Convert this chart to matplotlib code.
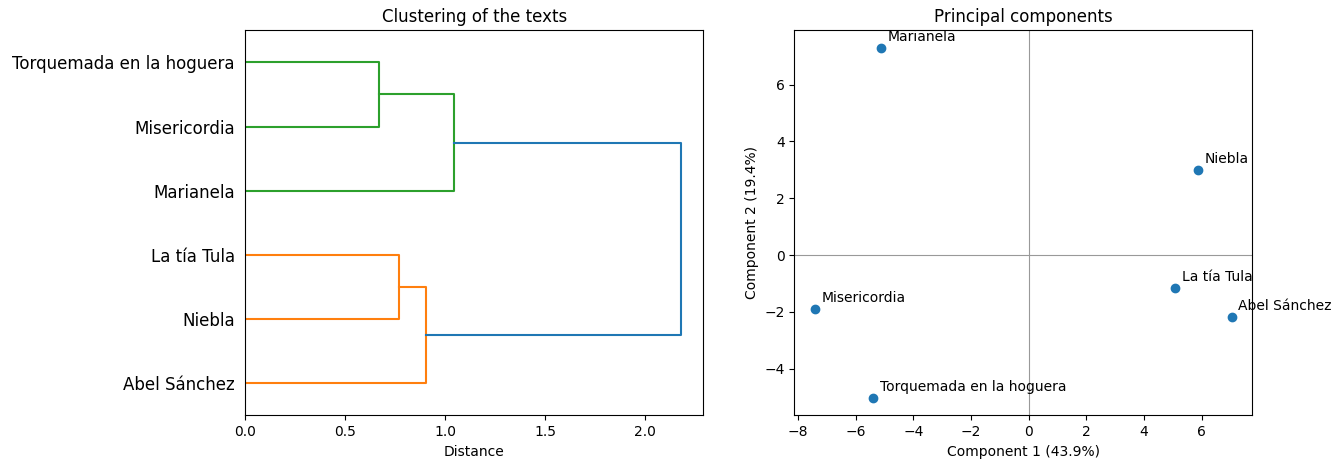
import matplotlib
matplotlib.use("Agg")
import matplotlib.pyplot as plt

# leaves, bottom to top as shown in the dendrogram
leaf_labels = ["Abel Sánchez", "Niebla", "La tía Tula", "Marianela",
               "Misericordia", "Torquemada en la hoguera"]

# merges: (child a, child b, distance, colour); new nodes numbered from 6
merges = [
    (5, 4, 0.67, "C2"),
    (2, 1, 0.77, "C1"),
    (0, 7, 0.905, "C1"),
    (3, 6, 1.045, "C2"),
    (8, 9, 2.18, "C0"),
]

# principal components
pca_labels = ["Marianela", "Niebla", "La tía Tula", "Abel Sánchez",
              "Misericordia", "Torquemada en la hoguera"]
pc1 = [-5.13, 5.85, 5.08, 7.03, -7.41, -5.40]
pc2 = [7.30, 2.99, -1.15, -2.17, -1.90, -5.03]

fig, (ax1, ax2) = plt.subplots(1, 2, figsize=(13.42, 4.69), dpi=100)

# Dendrogram
pos = {i: (10 * i + 5, 0.0) for i in range(len(leaf_labels))}
node = len(leaf_labels)
for a, b, h, col in merges:
    ya, ha = pos[a]
    yb, hb = pos[b]
    ax1.plot([ha, h, h, hb], [ya, ya, yb, yb], color=col, linewidth=1.5)
    pos[node] = ((ya + yb) / 2, h)
    node += 1

ax1.set_yticks([10 * i + 5 for i in range(len(leaf_labels))])
ax1.set_yticklabels(leaf_labels, fontsize=12)
ax1.tick_params(axis="y", length=0, pad=7.5)
ax1.set_ylim(0, 10 * len(leaf_labels))
ax1.set_xlim(0, max(m[2] for m in merges) * 1.05)
ax1.set_xlabel("Distance")
ax1.set_title("Clustering of the texts")

# PCA scatter
ax2.axhline(0, color="0.6", linewidth=0.8)
ax2.axvline(0, color="0.6", linewidth=0.8)
ax2.scatter(pc1, pc2, color="C0", zorder=3)
for name, x, y in zip(pca_labels, pc1, pc2):
    ax2.annotate(name, (x, y), xytext=(5, 5), textcoords="offset points")
ax2.set_xlabel("Component 1 (43.9%)")
ax2.set_ylabel("Component 2 (19.4%)")
ax2.set_title("Principal components")

ax1.set_position([0.1828, 0.1145, 0.3411, 0.8209])
ax2.set_position([0.5919, 0.1145, 0.3413, 0.8209])

fig.savefig("out.png")
